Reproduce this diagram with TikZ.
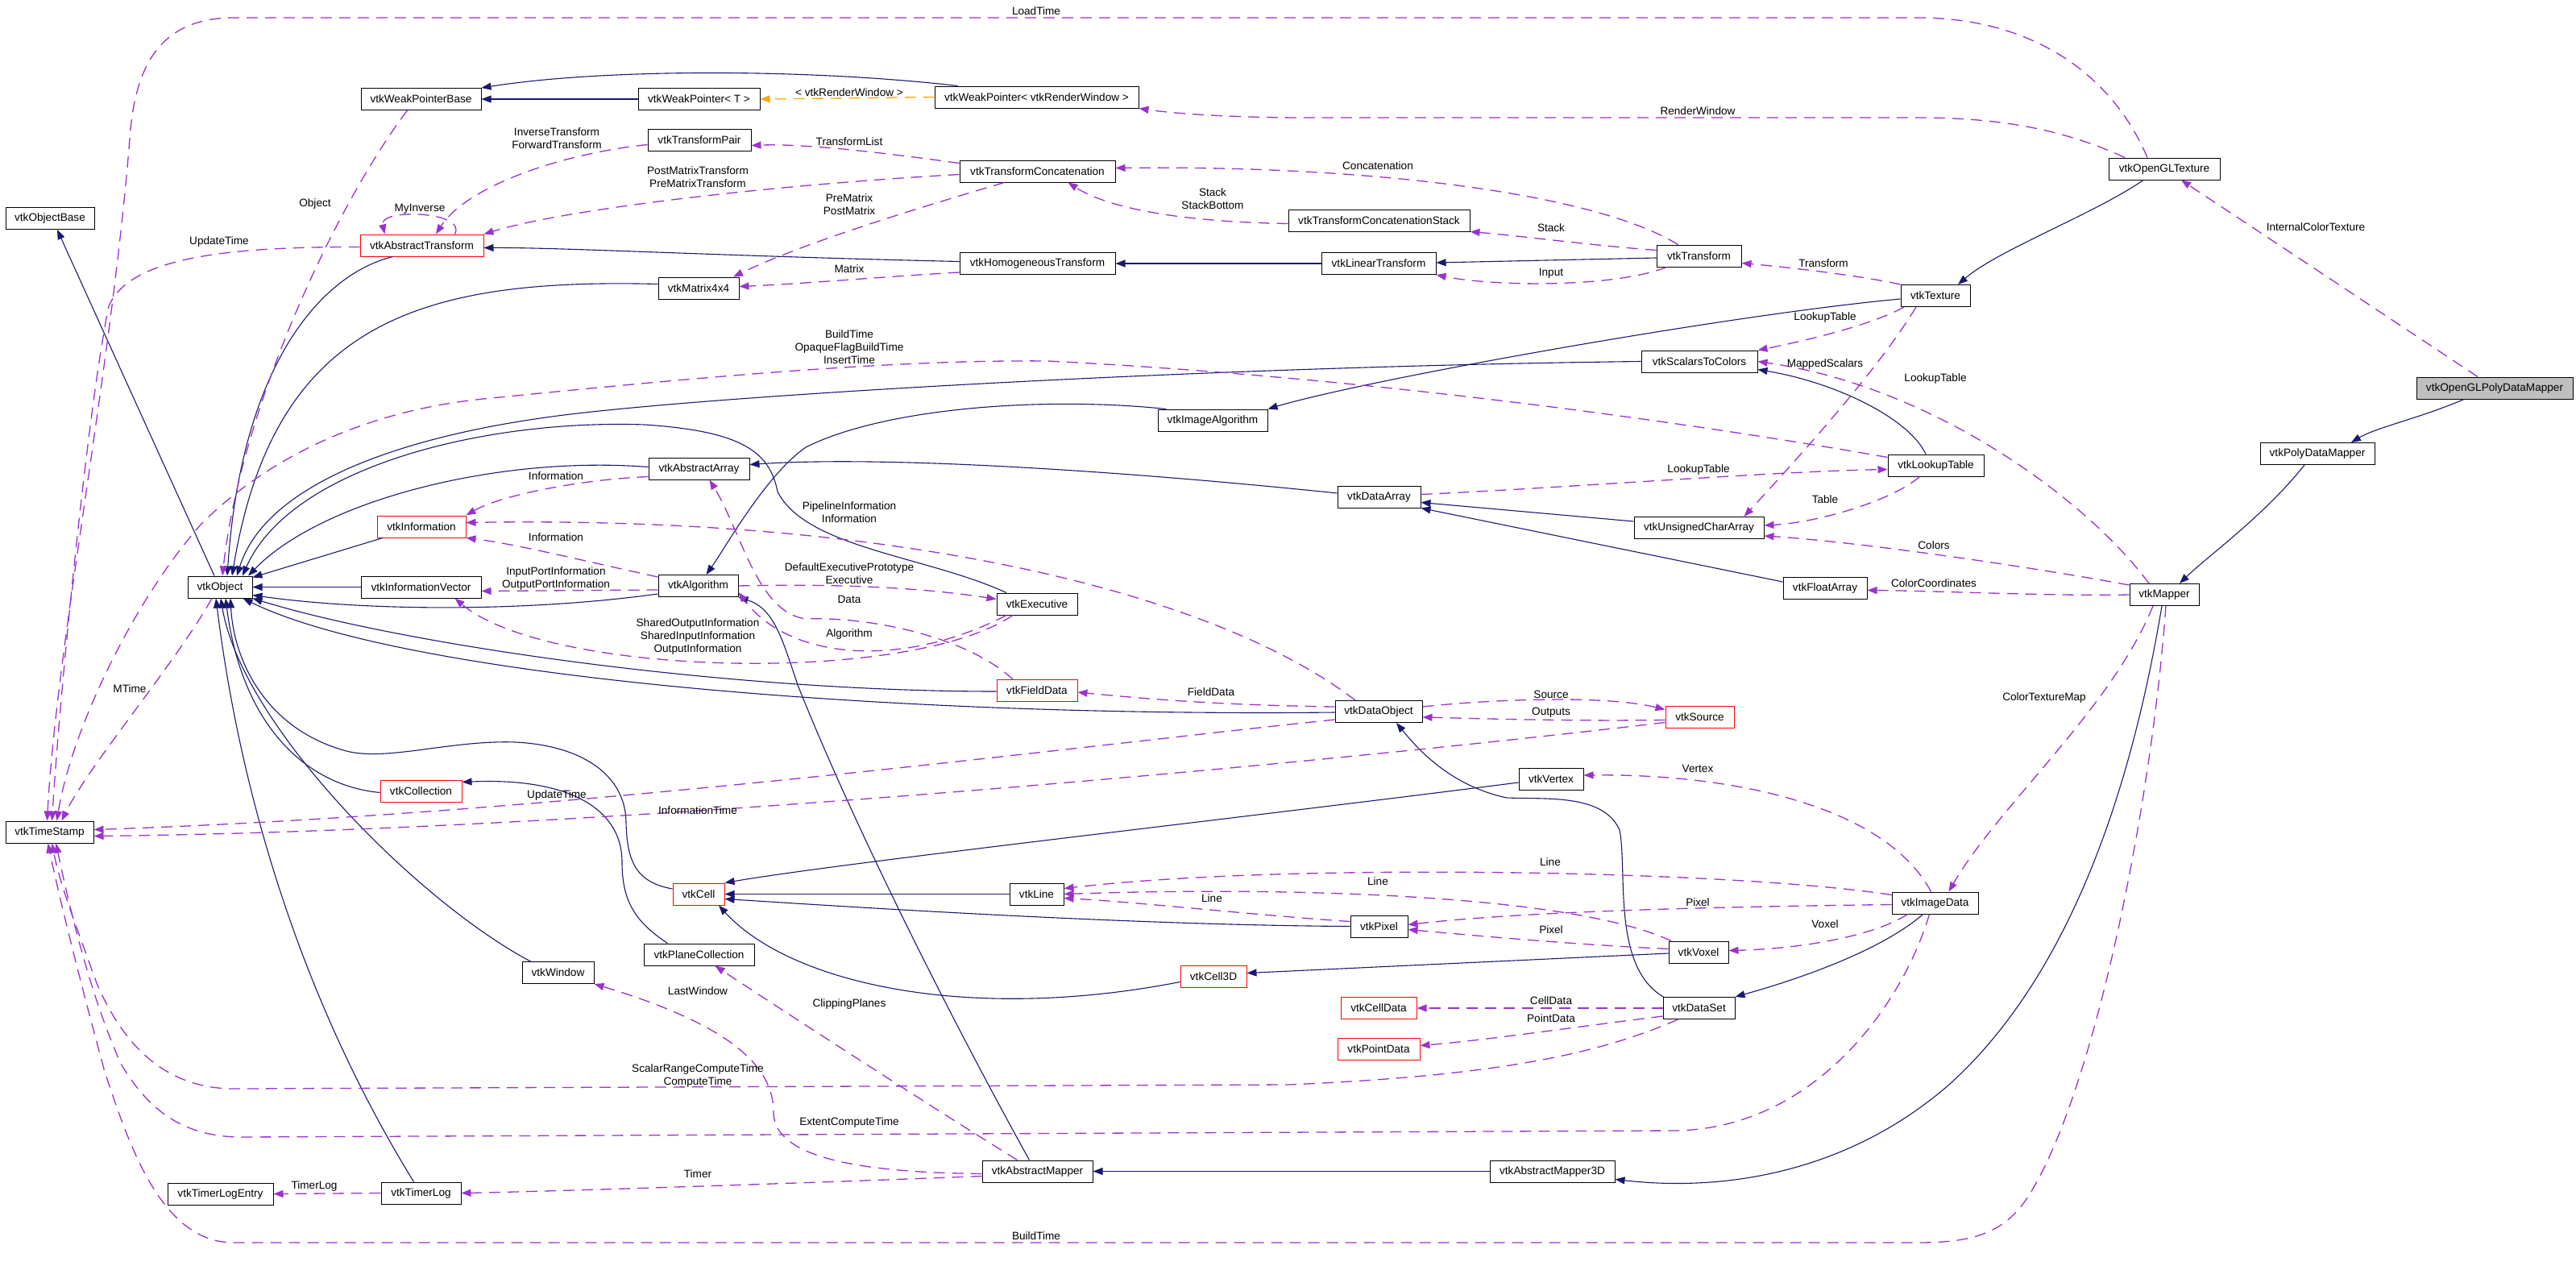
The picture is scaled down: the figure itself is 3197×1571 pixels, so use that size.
\documentclass[tikz,border=0pt]{standalone}
\usepackage{fontspec}
\setmainfont{Liberation Sans}
\usetikzlibrary{arrows.meta}
\definecolor{inhc}{HTML}{191970}
\definecolor{usec}{HTML}{9A32CD}
\definecolor{tplc}{HTML}{FFA500}
\definecolor{grayfill}{HTML}{BFBFBF}
\newcommand{\dfont}{\fontsize{13.6}{16}\selectfont}
\begin{document}
\begin{tikzpicture}[x=1pt,y=-1pt,
  cls/.style={draw=black, line width=1pt, minimum height=27pt, inner sep=0pt, font=\dfont, fill=white},
  redcls/.style={cls, draw=red},
  lbl/.style={font=\dfont, align=center, inner sep=0pt},
  inh/.style={draw=inhc, line width=1.1pt, -{Triangle[length=12pt,width=9pt]}},
  use/.style={draw=usec, line width=1.3pt, dash pattern=on 14pt off 9pt, -{Triangle[length=12pt,width=9pt]}},
  tpl/.style={draw=tplc, line width=1.3pt, dash pattern=on 14pt off 9pt, -{Triangle[length=12pt,width=9pt]}},
]
\useasboundingbox (0,0) rectangle (3197,1571);

% ---------------- nodes ----------------
\node[cls, minimum width=149pt] (WPB) at (522.5,123) {vtkWeakPointerBase};
\node[cls, minimum width=110pt] (OB) at (62,271) {vtkObjectBase};
\node[redcls, minimum width=153pt] (AT) at (523.5,304.5) {vtkAbstractTransform};
\node[cls, minimum width=151pt] (WPT) at (867.5,123) {vtkWeakPointer< T >};
\node[cls, minimum width=253pt] (WPRW) at (1286.5,120.5) {vtkWeakPointer< vtkRenderWindow >};
\node[cls, minimum width=128pt] (TP) at (868,173.5) {vtkTransformPair};
\node[cls, minimum width=193pt] (TC) at (1287.5,212.5) {vtkTransformConcatenation};
\node[cls, minimum width=193pt] (HT) at (1287.5,327) {vtkHomogeneousTransform};
\node[cls, minimum width=100pt] (M4) at (867,357.5) {vtkMatrix4x4};
\node[cls, minimum width=136pt] (IA) at (1505,521.5) {vtkImageAlgorithm};
\node[cls, minimum width=225pt] (TCS) at (1711.5,273.5) {vtkTransformConcatenationStack};
\node[cls, minimum width=142pt] (LT) at (1711,327) {vtkLinearTransform};
\node[cls, minimum width=105pt] (TR) at (2108.5,317.5) {vtkTransform};
\node[cls, minimum width=144pt] (STC) at (2109,448.5) {vtkScalarsToColors};
\node[cls, minimum width=86pt] (TEX) at (2402,367) {vtkTexture};
\node[cls, minimum width=138pt] (OGT) at (2686,209.5) {vtkOpenGLTexture};
\node[cls, fill=grayfill, minimum width=194pt] (OGPDM) at (3096,481.5) {vtkOpenGLPolyDataMapper};
\node[cls, minimum width=80pt] (OBJ) at (273,728.5) {vtkObject};
\node[redcls, minimum width=110pt] (INF) at (523,653.5) {vtkInformation};
\node[cls, minimum width=149pt] (IV) at (522.5,728.5) {vtkInformationVector};
\node[redcls, minimum width=101pt] (COL) at (522.5,981.5) {vtkCollection};
\node[cls, minimum width=109pt] (TS) at (61.5,1032.5) {vtkTimeStamp};
\node[cls, minimum width=125pt] (AA) at (867.5,581.5) {vtkAbstractArray};
\node[cls, minimum width=99pt] (ALG) at (866.5,727) {vtkAlgorithm};
\node[cls, minimum width=100pt] (EX) at (1287,749.5) {vtkExecutive};
\node[redcls, minimum width=100pt] (FD) at (1287,857) {vtkFieldData};
\node[cls, minimum width=103pt] (DA) at (1711.5,616.5) {vtkDataArray};
\node[cls, minimum width=161pt] (UCA) at (2108.5,655) {vtkUnsignedCharArray};
\node[cls, minimum width=104pt] (FA) at (2265,729.5) {vtkFloatArray};
\node[cls, minimum width=119pt] (LUT) at (2402.5,577.5) {vtkLookupTable};
\node[cls, minimum width=108pt] (DO) at (1711,883) {vtkDataObject};
\node[redcls, minimum width=85pt] (SRC) at (2109.5,889.5) {vtkSource};
\node[cls, minimum width=80pt] (VTX) at (1925,967) {vtkVertex};
\node[cls, minimum width=142pt] (PDM) at (2876,563) {vtkPolyDataMapper};
\node[cls, minimum width=86pt] (MAP) at (2686,738) {vtkMapper};
\node[cls, minimum width=89pt] (WIN) at (692.5,1207) {vtkWindow};
\node[cls, minimum width=131pt] (TLE) at (273.5,1481.5) {vtkTimerLogEntry};
\node[cls, minimum width=99pt] (TL) at (522.5,1480.5) {vtkTimerLog};
\node[redcls, minimum width=64pt] (CELL) at (867,1109.5) {vtkCell};
\node[cls, minimum width=67pt] (LINE) at (1286.5,1109.5) {vtkLine};
\node[cls, minimum width=137pt] (PC) at (867.5,1184.5) {vtkPlaneCollection};
\node[redcls, minimum width=82pt] (C3D) at (1506,1211.5) {vtkCell3D};
\node[cls, minimum width=137pt] (AM) at (1287.5,1453.5) {vtkAbstractMapper};
\node[cls, minimum width=71pt] (PIX) at (1711.5,1149.5) {vtkPixel};
\node[cls, minimum width=74pt] (VOX) at (2108,1181.5) {vtkVoxel};
\node[redcls, minimum width=94pt] (CD) at (1711,1251) {vtkCellData};
\node[redcls, minimum width=102pt] (PD) at (1711,1301.5) {vtkPointData};
\node[cls, minimum width=89pt] (DS) at (2108.5,1251) {vtkDataSet};
\node[cls, minimum width=155pt] (AM3) at (1926.5,1453.5) {vtkAbstractMapper3D};
\node[cls, minimum width=107pt] (ID) at (2401.5,1120.5) {vtkImageData};

% ---------------- inheritance ----------------
\draw[inh] ([xshift=-7pt]OBJ.north) -- ([xshift=9pt]OB.south);
\draw[inh] ([xshift=-98pt]WPRW.north) .. controls (1000,85) and (750,85) .. (WPB.north east);
\draw[inh] (WPT.west) -- (WPB.east);
\draw[inh] ([xshift=-36pt]AT.south) .. controls (400,340) and (300,450) .. ([xshift=9pt]OBJ.north);
\draw[inh] ([yshift=2.5pt]HT.west) .. controls (900,318) and (700,307) .. ([yshift=-3pt]AT.east);
\draw[inh] ([yshift=5pt]M4.west) .. controls (520,345) and (340,400) .. ([xshift=15pt]OBJ.north);
\draw[inh] ([yshift=-2.5pt]TR.west) -- ([yshift=1pt]LT.east);
\draw[inh] (LT.west) -- (HT.east);
\draw[inh] ([yshift=-4pt]TEX.west) .. controls (2150,390) and (1700,470) .. (IA.north east);
\draw[inh] ([xshift=-26pt]OGT.south) .. controls (2600,265) and (2480,310) .. ([xshift=28pt]TEX.north);
\draw[inh] ([xshift=-38pt]OGPDM.south) .. controls (3000,520) and (2950,530) .. ([xshift=42pt]PDM.north);
\draw[inh] ([xshift=-16pt]PDM.south) .. controls (2810,640) and (2740,690) .. ([xshift=19pt]MAP.north);
\draw[inh] (STC.west) .. controls (1500,455) and (900,490) .. (700,515) .. controls (500,540) and (330,600) .. ([xshift=21pt]OBJ.north);
\draw[inh] ([xshift=-12.5pt]LUT.north) .. controls (2370,520) and (2280,475) .. ([yshift=-10pt]STC.east);
\draw[inh] ([xshift=-38pt]EX.north) .. controls (1150,690) and (1000,680) .. (965,610) .. controls (955,560) and (920,535) .. (800,527) .. controls (600,520) and (360,580) .. ([xshift=28pt]OBJ.north);
\draw[inh] ([yshift=2pt]AA.west) .. controls (620,565) and (400,620) .. ([xshift=35pt]OBJ.north);
\draw[inh] ([xshift=-48pt]INF.south) -- ([yshift=-2pt]OBJ.north east);
\draw[inh] (IV.west) -- (OBJ.east);
\draw[inh] ([yshift=-10pt]ALG.west) .. controls (650,760) and (450,758) .. ([yshift=-10pt]OBJ.east);
\draw[inh] ([yshift=-1pt]FD.west) .. controls (900,858) and (500,800) .. (OBJ.south east);
\draw[inh] ([yshift=-1pt]DO.west) .. controls (1100,890) and (500,840) .. ([xshift=-12pt]OBJ.south east);
\draw[inh] ([yshift=6.5pt]CELL.west) .. controls (790,1095) and (778,1070) .. (777,1020) .. controls (776,960) and (720,925) .. (640,921) .. controls (560,918) and (480,945) .. (430,932) .. controls (330,905) and (290,820) .. ([xshift=13pt]OBJ.south);
\draw[inh] ([xshift=-39pt]PC.north) .. controls (790,1145) and (772,1120) .. (772,1070) .. controls (772,1000) and (700,965) .. ([yshift=11pt]COL.east);
\draw[inh] ([yshift=-2pt]COL.west) .. controls (380,975) and (300,900) .. ([xshift=7pt]OBJ.south);
\draw[inh] ([xshift=-34pt]WIN.north) .. controls (520,1120) and (300,900) .. ([xshift=1pt]OBJ.south);
\draw[inh] ([xshift=-9pt]TL.north) .. controls (380,1250) and (300,1000) .. ([xshift=-5pt]OBJ.south);
\draw[inh] ([xshift=-58pt]IA.north) .. controls (1300,492) and (1100,505) .. (1000,555) .. controls (950,590) and (900,680) .. ([xshift=10pt]ALG.north);
\draw[inh] ([xshift=-10pt]AM.north) .. controls (1200,1300) and (1070,1050) .. (990,850) .. controls (970,790) and (960,755) .. (ALG.south east);
\draw[inh] (AM3.west) -- (AM.east);
\draw[inh] ([xshift=-3pt]MAP.south) .. controls (2650,950) and (2580,1200) .. (2420,1345) .. controls (2300,1450) and (2150,1480) .. ([yshift=-10pt]AM3.east);
\draw[inh] ([yshift=4.5pt]DA.west) .. controls (1400,585) and (1100,565) .. ([yshift=5pt]AA.east);
\draw[inh] ([yshift=8pt]UCA.west) -- ([yshift=-7pt]DA.east);
\draw[inh] ([yshift=7.5pt]FA.west) -- (DA.south east);
\draw[inh] ([xshift=-44pt]DS.north) .. controls (2000,1200) and (2020,1080) .. (2010,1030) .. controls (1990,985) and (1920,992) .. (1870,990) .. controls (1800,975) and (1760,930) .. ([xshift=22pt]DO.south);
\draw[inh] ([xshift=-15pt]ID.south) .. controls (2340,1175) and (2250,1210) .. (DS.north east);
\draw[inh] ([yshift=-4pt]VTX.west) .. controls (1500,1020) and (1050,1070) .. (CELL.north east);
\draw[inh] (LINE.west) -- (CELL.east);
\draw[inh] (PIX.west) .. controls (1400,1148) and (1050,1125) .. ([yshift=-6pt]CELL.east);
\draw[inh] ([yshift=-7pt]C3D.west) .. controls (1200,1270) and (980,1220) .. ([xshift=25pt]CELL.south);
\draw[inh] ([yshift=-1.5pt]VOX.west) -- ([yshift=4pt]C3D.east);

% ---------------- usage ----------------
\draw[use] ([xshift=-17pt]WPB.south) .. controls (420,250) and (300,500) .. ([xshift=3pt]OBJ.north);
\draw[use] ([xshift=41pt]AT.north) .. controls (580,262) and (470,258) .. ([xshift=-46pt]AT.north);
\draw[use] ([yshift=-6pt]TP.west) .. controls (700,190) and (580,230) .. ([xshift=17.5pt]AT.north);
\draw[use] ([yshift=-4pt]TC.west) .. controls (950,230) and (700,260) .. (AT.north east);
\draw[use] ([yshift=10pt]TC.west) .. controls (1100,190) and (1000,178) .. ([yshift=-7pt]TP.east);
\draw[use] ([xshift=-41pt]TC.south) .. controls (1150,255) and (1000,300) .. ([xshift=43pt]M4.north);
\draw[use] ([yshift=-11pt]HT.west) .. controls (1100,343) and (1000,352) .. ([yshift=2pt]M4.east);
\draw[use] ([yshift=-2pt]AT.west) .. controls (280,306) and (160,320) .. (135,380) .. controls (110,500) and (75,850) .. ([xshift=3pt]TS.north);
\draw[use] ([xshift=-21pt]OGT.north) .. controls (2620,90) and (2520,22) .. (2380,22) -- (290,22) .. controls (200,22) and (170,80) .. (162,160) .. controls (140,450) and (70,800) .. ([xshift=-3pt]TS.north);
\draw[use] ([xshift=-49pt]OGT.north) .. controls (2560,160) and (2480,146) .. (2380,146) -- (1620,146) .. controls (1520,146) and (1450,140) .. (WPRW.south east);
\draw[tpl] (WPRW.west) -- (WPT.east);
\draw[use] ([xshift=-26pt]TR.north) .. controls (1980,240) and (1700,205) .. ([yshift=4pt]TC.east);
\draw[use] ([yshift=-4pt]TCS.west) .. controls (1450,275) and (1370,255) .. ([xshift=38pt]TC.south);
\draw[use] ([yshift=7pt]TR.west) .. controls (1980,305) and (1880,292) .. (TCS.south east);
\draw[use] ([xshift=-40pt]TR.south) .. controls (2000,358) and (1850,355) .. (LT.south east);
\draw[use] (TEX.north west) .. controls (2300,340) and (2200,330) .. ([yshift=-9pt]TR.east);
\draw[use] ([xshift=-39pt]TEX.south) .. controls (2320,405) and (2230,425) .. (STC.north east);
\draw[use] ([xshift=-24pt]TEX.south) .. controls (2330,460) and (2230,570) .. ([xshift=56pt]UCA.north);
\draw[use] ([xshift=-21pt]OGPDM.north) -- ([xshift=21pt]OGT.south);
\draw[use] ([xshift=-19pt]MAP.north) .. controls (2590,620) and (2400,480) .. (STC.east);
\draw[use] ([yshift=12pt]MAP.west) .. controls (2500,700) and (2300,672) .. ([yshift=-10pt]UCA.east);
\draw[use] (MAP.west) .. controls (2550,740) and (2400,733) .. ([yshift=-3pt]FA.east);
\draw[use] ([xshift=-14pt]MAP.south) .. controls (2620,880) and (2480,1000) .. ([xshift=17pt]ID.north);
\draw[use] ([xshift=2pt]MAP.south) .. controls (2670,1000) and (2600,1350) .. (2520,1480) .. controls (2490,1530) and (2450,1542) .. (2380,1542) -- (290,1542) .. controls (200,1542) and (160,1420) .. (130,1330) .. controls (100,1220) and (75,1120) .. ([xshift=-2pt]TS.south);
\draw[use] ([xshift=-26pt]DS.south) .. controls (1980,1310) and (1850,1335) .. (1600,1346) -- (290,1351) .. controls (200,1351) and (150,1290) .. (120,1220) .. controls (95,1150) and (75,1100) .. ([xshift=3pt]TS.south);
\draw[use] ([xshift=-7pt]ID.south) .. controls (2360,1250) and (2250,1400) .. (2080,1403) -- (300,1411) .. controls (220,1411) and (180,1370) .. (150,1320) .. controls (110,1230) and (85,1120) .. ([xshift=8pt]TS.south);
\draw[use] ([yshift=-6pt]AM.west) .. controls (1000,1468) and (700,1478) .. (TL.east);
\draw[use] ([yshift=-3pt]AM.west) .. controls (1080,1455) and (960,1440) .. (960,1380) .. controls (960,1320) and (900,1270) .. (WIN.south east);
\draw[use] ([xshift=-25pt]AM.north) .. controls (1150,1370) and (950,1240) .. ([xshift=20pt]PC.south);
\draw[use] (TL.west) -- (TLE.east);
\draw[use] ([yshift=3pt]DA.east) .. controls (1950,605) and (2200,585) .. ([yshift=-5pt]LUT.west);
\draw[use] ([xshift=-20pt]LUT.south) .. controls (2350,620) and (2260,648) .. ([yshift=3pt]UCA.east);
\draw[use] ([yshift=10pt]LUT.west) .. controls (2100,525) and (1700,468) .. (1300,448) .. controls (1100,446) and (850,470) .. (600,495) .. controls (450,510) and (330,570) .. (250,650) .. controls (170,740) and (90,900) .. ([xshift=9pt]TS.north);
\draw[use] ([xshift=-10pt]OBJ.south) .. controls (220,820) and (110,950) .. ([xshift=15pt]TS.north);
\draw[use] ([xshift=-29pt]DO.north) .. controls (1500,730) and (1100,640) .. ([yshift=5pt]INF.east);
\draw[use] ([yshift=11pt]ALG.west) .. controls (720,695) and (640,675) .. (INF.south east);
\draw[use] ([yshift=-10pt]AA.west) .. controls (720,595) and (620,615) .. (INF.north east);
\draw[use] ([yshift=-5pt]ALG.west) -- ([yshift=-5pt]IV.east);
\draw[use] ([xshift=-30pt]EX.south) .. controls (1130,850) and (680,840) .. ([xshift=42pt]IV.south);
\draw[use] (ALG.east) .. controls (1050,724) and (1150,730) .. ([yshift=6pt]EX.west);
\draw[use] ([xshift=-38pt]EX.south) .. controls (1120,830) and (980,820) .. ([yshift=-8pt]ALG.east);
\draw[use] ([xshift=-30pt]FD.north) .. controls (1200,790) and (1080,765) .. (1000,768) .. controls (940,760) and (920,660) .. ([xshift=13pt]AA.south);
\draw[use] ([yshift=6pt]DO.west) .. controls (1500,875) and (1400,865) .. ([yshift=-2pt]FD.east);
\draw[use] ([yshift=6pt]DO.east) .. controls (1850,868) and (1990,862) .. ([yshift=9pt]SRC.west);
\draw[use] ([yshift=-4pt]SRC.west) .. controls (1950,895) and (1850,892) .. ([yshift=-7pt]DO.east);
\draw[use] ([yshift=-7pt]SRC.west) .. controls (1700,940) and (800,1030) .. ([yshift=-5pt]TS.east);
\draw[use] ([yshift=-10pt]DO.west) .. controls (1300,930) and (700,1010) .. ([yshift=3pt]TS.east);
\draw[use] ([xshift=-5pt]ID.north) .. controls (2340,1000) and (2150,960) .. ([yshift=5pt]VTX.east);
\draw[use] ([yshift=10pt]ID.west) .. controls (2150,1080) and (1600,1070) .. ([yshift=7pt]LINE.east);
\draw[use] ([xshift=-34pt]VOX.north) .. controls (1950,1110) and (1600,1100) .. (LINE.east);
\draw[use] ([yshift=6pt]PIX.west) .. controls (1550,1135) and (1420,1120) .. ([yshift=-5pt]LINE.east);
\draw[use] ([yshift=-2pt]ID.west) .. controls (2150,1125) and (1900,1130) .. ([yshift=2pt]PIX.east);
\draw[use] ([yshift=4pt]VOX.west) .. controls (1950,1172) and (1820,1160) .. ([yshift=-4pt]PIX.east);
\draw[use] ([xshift=-34pt]ID.south) .. controls (2320,1165) and (2220,1178) .. ([yshift=2pt]VOX.east);
\draw[use] (DS.west) -- (CD.east);
\draw[use] ([yshift=-10pt]DS.west) .. controls (1950,1275) and (1850,1290) .. ([yshift=4pt]PD.east);

% ---------------- labels ----------------
\node[lbl] (lLoadTime) at (1286,14) {LoadTime};
\node[lbl] (lRW) at (1054,115) {< vtkRenderWindow >};
\node[lbl] (lRenderWindow) at (2107,138) {RenderWindow};
\node[lbl] (lObject) at (391,253) {Object};
\node[lbl] (lMyInverse) at (521,259) {MyInverse};
\node[lbl] (lInvFwd) at (691,172) {InverseTransform\\ForwardTransform};
\node[lbl] (lPostPre) at (866,220) {PostMatrixTransform\\PreMatrixTransform};
\node[lbl] (lTList) at (1054,176) {TransformList};
\node[lbl] (lPrePost) at (1054,254) {PreMatrix\\PostMatrix};
\node[lbl] (lMatrix) at (1054,334) {Matrix};
\node[lbl] (lStack2) at (1505,247) {Stack\\StackBottom};
\node[lbl] (lConcat) at (1710,206) {Concatenation};
\node[lbl] (lStack) at (1925,283) {Stack};
\node[lbl] (lInput) at (1925,339) {Input};
\node[lbl] (lTransform) at (2263,327) {Transform};
\node[lbl] (lLUT1) at (2265,394) {LookupTable};
\node[lbl] (lMapped) at (2265,452) {MappedScalars};
\node[lbl] (lLUT2) at (2402,470) {LookupTable};
\node[lbl] (lBuild3) at (1054,431) {BuildTime\\OpaqueFlagBuildTime\\InsertTime};
\node[lbl] (lInfo1) at (690,591) {Information};
\node[lbl] (lInfo2) at (690,667) {Information};
\node[lbl] (lPorts) at (690,718) {InputPortInformation\\OutputPortInformation};
\node[lbl] (lPipe) at (1054,636) {PipelineInformation\\Information};
\node[lbl] (lDefExec) at (1054,712) {DefaultExecutivePrototype\\Executive};
\node[lbl] (lData) at (1054,744) {Data};
\node[lbl] (lAlgo) at (1054,787) {Algorithm};
\node[lbl] (lShared) at (866,790) {SharedOutputInformation\\SharedInputInformation\\OutputInformation};
\node[lbl] (lFieldData) at (1503,859) {FieldData};
\node[lbl] (lLUT3) at (2108,583) {LookupTable};
\node[lbl] (lTable) at (2265,620) {Table};
\node[lbl] (lColors) at (2400,677) {Colors};
\node[lbl] (lColorCoord) at (2400,724) {ColorCoordinates};
\node[lbl] (lMTime) at (161,855) {MTime};
\node[lbl] (lUpd1) at (272,300) {UpdateTime};
\node[lbl] (lUpd2) at (691,987) {UpdateTime};
\node[lbl] (lInfoTime) at (866,1006) {InformationTime};
\node[lbl] (lSource) at (1925,862) {Source};
\node[lbl] (lOutputs) at (1925,884) {Outputs};
\node[lbl] (lVertex) at (2107,954) {Vertex};
\node[lbl] (lCTM) at (2537,866) {ColorTextureMap};
\node[lbl] (lICT) at (2874,282) {InternalColorTexture};
\node[lbl] (lLine1) at (1924,1070) {Line};
\node[lbl] (lLine2) at (1710,1094) {Line};
\node[lbl] (lLine3) at (1504,1115) {Line};
\node[lbl] (lPixel1) at (2107,1120) {Pixel};
\node[lbl] (lPixel2) at (1925,1154) {Pixel};
\node[lbl] (lVoxel) at (2265,1147) {Voxel};
\node[lbl] (lCellData) at (1925,1242) {CellData};
\node[lbl] (lPointData) at (1925,1264) {PointData};
\node[lbl] (lLastWin) at (866,1230) {LastWindow};
\node[lbl] (lClip) at (1054,1246) {ClippingPlanes};
\node[lbl] (lScalar) at (866,1335) {ScalarRangeComputeTime\\ComputeTime};
\node[lbl] (lExtent) at (1054,1393) {ExtentComputeTime};
\node[lbl] (lTimer) at (866,1457) {Timer};
\node[lbl] (lTimerLog) at (390,1472) {TimerLog};
\node[lbl] (lBuild) at (1286,1534) {BuildTime};
\end{tikzpicture}
\end{document}
